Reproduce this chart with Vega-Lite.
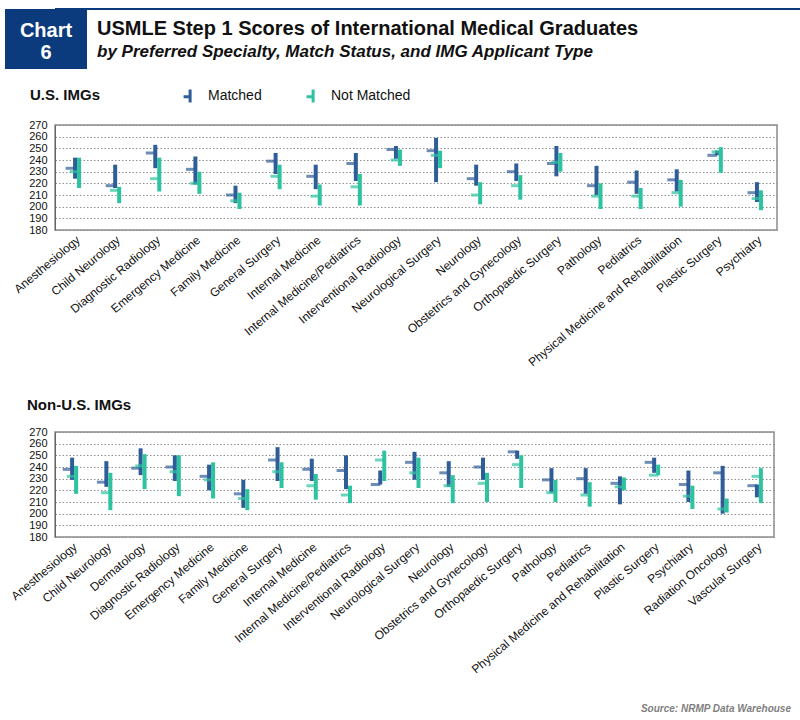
{
  "$schema": "https://vega.github.io/schema/vega-lite/v6.json",
  "padding": {"left": 5, "top": 8, "right": 0, "bottom": 0},
  "config": {
    "font": "Liberation Sans",
    "view": {"stroke": null},
    "axis": {"labelFont": "Liberation Sans"},
    "legend": {"labelFont": "Liberation Sans"}
  },
  "datasets": {
    "us": [
      {"specialty": "Anesthesiology", "status": "Matched", "low": 224, "high": 242, "mean": 233},
      {"specialty": "Anesthesiology", "status": "Not Matched", "low": 216, "high": 242, "mean": 230},
      {"specialty": "Child Neurology", "status": "Matched", "low": 216, "high": 236, "mean": 218},
      {"specialty": "Child Neurology", "status": "Not Matched", "low": 203, "high": 217, "mean": 214},
      {"specialty": "Diagnostic Radiology", "status": "Matched", "low": 233, "high": 253, "mean": 246},
      {"specialty": "Diagnostic Radiology", "status": "Not Matched", "low": 213, "high": 242, "mean": 224},
      {"specialty": "Emergency Medicine", "status": "Matched", "low": 219, "high": 243, "mean": 232},
      {"specialty": "Emergency Medicine", "status": "Not Matched", "low": 211, "high": 230, "mean": 220},
      {"specialty": "Family Medicine", "status": "Matched", "low": 203, "high": 218, "mean": 210},
      {"specialty": "Family Medicine", "status": "Not Matched", "low": 198, "high": 212, "mean": 205},
      {"specialty": "General Surgery", "status": "Matched", "low": 228, "high": 246, "mean": 239},
      {"specialty": "General Surgery", "status": "Not Matched", "low": 215, "high": 236, "mean": 226},
      {"specialty": "Internal Medicine", "status": "Matched", "low": 215, "high": 236, "mean": 226},
      {"specialty": "Internal Medicine", "status": "Not Matched", "low": 201, "high": 219, "mean": 209},
      {"specialty": "Internal Medicine/Pediatrics", "status": "Matched", "low": 222, "high": 246, "mean": 237},
      {"specialty": "Internal Medicine/Pediatrics", "status": "Not Matched", "low": 201, "high": 228, "mean": 217},
      {"specialty": "Interventional Radiology", "status": "Matched", "low": 241, "high": 252, "mean": 249},
      {"specialty": "Interventional Radiology", "status": "Not Matched", "low": 235, "high": 249, "mean": 240},
      {"specialty": "Neurological Surgery", "status": "Matched", "low": 221, "high": 259, "mean": 248},
      {"specialty": "Neurological Surgery", "status": "Not Matched", "low": 233, "high": 248, "mean": 244},
      {"specialty": "Neurology", "status": "Matched", "low": 218, "high": 236, "mean": 224},
      {"specialty": "Neurology", "status": "Not Matched", "low": 202, "high": 221, "mean": 210},
      {"specialty": "Obstetrics and Gynecology", "status": "Matched", "low": 222, "high": 237, "mean": 230},
      {"specialty": "Obstetrics and Gynecology", "status": "Not Matched", "low": 206, "high": 227, "mean": 218},
      {"specialty": "Orthopaedic Surgery", "status": "Matched", "low": 226, "high": 252, "mean": 237},
      {"specialty": "Orthopaedic Surgery", "status": "Not Matched", "low": 230, "high": 246, "mean": 238},
      {"specialty": "Pathology", "status": "Matched", "low": 210, "high": 235, "mean": 218},
      {"specialty": "Pathology", "status": "Not Matched", "low": 198, "high": 220, "mean": 209},
      {"specialty": "Pediatrics", "status": "Matched", "low": 211, "high": 231, "mean": 221},
      {"specialty": "Pediatrics", "status": "Not Matched", "low": 198, "high": 216, "mean": 209},
      {"specialty": "Physical Medicine and Rehabilitation", "status": "Matched", "low": 213, "high": 232, "mean": 223},
      {"specialty": "Physical Medicine and Rehabilitation", "status": "Not Matched", "low": 200, "high": 223, "mean": 212},
      {"specialty": "Plastic Surgery", "status": "Matched", "low": 244, "high": 248, "mean": 244},
      {"specialty": "Plastic Surgery", "status": "Not Matched", "low": 229, "high": 251, "mean": 247},
      {"specialty": "Psychiatry", "status": "Matched", "low": 204, "high": 221, "mean": 212},
      {"specialty": "Psychiatry", "status": "Not Matched", "low": 197, "high": 214, "mean": 207}
    ],
    "nonus": [
      {"specialty": "Anesthesiology", "status": "Matched", "low": 229, "high": 248, "mean": 238},
      {"specialty": "Anesthesiology", "status": "Not Matched", "low": 217, "high": 241, "mean": 232},
      {"specialty": "Child Neurology", "status": "Matched", "low": 223, "high": 245, "mean": 227},
      {"specialty": "Child Neurology", "status": "Not Matched", "low": 203, "high": 235, "mean": 218},
      {"specialty": "Dermatology", "status": "Matched", "low": 233, "high": 256, "mean": 239},
      {"specialty": "Dermatology", "status": "Not Matched", "low": 221, "high": 251, "mean": 241},
      {"specialty": "Diagnostic Radiology", "status": "Matched", "low": 228, "high": 250, "mean": 240},
      {"specialty": "Diagnostic Radiology", "status": "Not Matched", "low": 215, "high": 250, "mean": 236},
      {"specialty": "Emergency Medicine", "status": "Matched", "low": 220, "high": 242, "mean": 232},
      {"specialty": "Emergency Medicine", "status": "Not Matched", "low": 213, "high": 244, "mean": 229},
      {"specialty": "Family Medicine", "status": "Matched", "low": 205, "high": 229, "mean": 217},
      {"specialty": "Family Medicine", "status": "Not Matched", "low": 203, "high": 221, "mean": 213},
      {"specialty": "General Surgery", "status": "Matched", "low": 228, "high": 257, "mean": 246},
      {"specialty": "General Surgery", "status": "Not Matched", "low": 222, "high": 244, "mean": 236},
      {"specialty": "Internal Medicine", "status": "Matched", "low": 228, "high": 247, "mean": 238},
      {"specialty": "Internal Medicine", "status": "Not Matched", "low": 212, "high": 234, "mean": 224},
      {"specialty": "Internal Medicine/Pediatrics", "status": "Matched", "low": 221, "high": 250, "mean": 237},
      {"specialty": "Internal Medicine/Pediatrics", "status": "Not Matched", "low": 209, "high": 224, "mean": 216},
      {"specialty": "Interventional Radiology", "status": "Matched", "low": 225, "high": 237, "mean": 225},
      {"specialty": "Interventional Radiology", "status": "Not Matched", "low": 228, "high": 254, "mean": 246},
      {"specialty": "Neurological Surgery", "status": "Matched", "low": 229, "high": 253, "mean": 244},
      {"specialty": "Neurological Surgery", "status": "Not Matched", "low": 222, "high": 248, "mean": 235},
      {"specialty": "Neurology", "status": "Matched", "low": 223, "high": 245, "mean": 235},
      {"specialty": "Neurology", "status": "Not Matched", "low": 209, "high": 233, "mean": 224},
      {"specialty": "Obstetrics and Gynecology", "status": "Matched", "low": 229, "high": 248, "mean": 240},
      {"specialty": "Obstetrics and Gynecology", "status": "Not Matched", "low": 210, "high": 235, "mean": 226},
      {"specialty": "Orthopaedic Surgery", "status": "Matched", "low": 247, "high": 254, "mean": 253},
      {"specialty": "Orthopaedic Surgery", "status": "Not Matched", "low": 222, "high": 250, "mean": 242},
      {"specialty": "Pathology", "status": "Matched", "low": 218, "high": 239, "mean": 229},
      {"specialty": "Pathology", "status": "Not Matched", "low": 210, "high": 229, "mean": 218},
      {"specialty": "Pediatrics", "status": "Matched", "low": 217, "high": 239, "mean": 230},
      {"specialty": "Pediatrics", "status": "Not Matched", "low": 206, "high": 227, "mean": 216},
      {"specialty": "Physical Medicine and Rehabilitation", "status": "Matched", "low": 208, "high": 232, "mean": 226},
      {"specialty": "Physical Medicine and Rehabilitation", "status": "Not Matched", "low": 220, "high": 231, "mean": 223},
      {"specialty": "Plastic Surgery", "status": "Matched", "low": 235, "high": 248, "mean": 244},
      {"specialty": "Plastic Surgery", "status": "Not Matched", "low": 233, "high": 242, "mean": 233},
      {"specialty": "Psychiatry", "status": "Matched", "low": 210, "high": 237, "mean": 225},
      {"specialty": "Psychiatry", "status": "Not Matched", "low": 204, "high": 224, "mean": 215},
      {"specialty": "Radiation Oncology", "status": "Matched", "low": 200, "high": 241, "mean": 235},
      {"specialty": "Radiation Oncology", "status": "Not Matched", "low": 201, "high": 213, "mean": 204},
      {"specialty": "Vascular Surgery", "status": "Matched", "low": 214, "high": 225, "mean": 224},
      {"specialty": "Vascular Surgery", "status": "Not Matched", "low": 209, "high": 239, "mean": 232}
    ]
  },
  "title": {
    "text": "Source: NRMP Data Warehouse",
    "orient": "bottom",
    "anchor": "end",
    "font": "Liberation Sans",
    "fontSize": 10,
    "fontStyle": "italic",
    "fontWeight": "bold",
    "color": "#808080",
    "offset": 28,
    "dx": -10
  },
  "bounds": "flush",
  "spacing": 50,
  "hconcat": [
    {
      "vconcat": [
        {
          "width": 82,
          "height": 60,
          "view": {"fill": "#0b3b7c", "stroke": null},
          "data": {"values": [{}]},
          "mark": {"type": "text", "text": ["Chart", "6"], "color": "white", "font": "Liberation Sans", "fontSize": 20, "fontWeight": "bold", "lineHeight": 22, "baseline": "middle", "dy": -8},
          "encoding": {}
        }
      ]
    },
    {
      "spacing": 26,
      "vconcat": [
        {
          "width": 745,
          "height": 2,
          "data": {"values": [{}]},
          "mark": {"type": "rule", "color": "#0b3b7c", "strokeWidth": 2},
          "encoding": {"y": {"value": 0}},
          "title": {
            "text": "USMLE Step 1 Scores of International Medical Graduates",
            "subtitle": "by Preferred Specialty, Match Status, and IMG Applicant Type",
            "orient": "bottom",
            "anchor": "start",
            "frame": "group",
            "dx": 42,
            "offset": 8,
            "font": "Liberation Sans",
            "fontSize": 20,
            "fontWeight": "bold",
            "color": "#111111",
            "subtitleFont": "Liberation Sans",
            "subtitleFontSize": 17,
            "subtitleFontWeight": "bold",
            "subtitleFontStyle": "italic",
            "subtitleColor": "#111111",
            "subtitlePadding": 5
          }
        },
        {
          "spacing": 28,
          "resolve": {"scale": {"x": "independent", "y": "independent", "color": "shared"}, "legend": {"color": "independent"}},
          "vconcat": [
            {
              "width": 722,
              "height": 105,
              "data": {"name": "us"},
              "view": {"stroke": "#8c8c8c", "strokeWidth": 1.5},
              "title": {"text": "U.S. IMGs", "anchor": "start", "frame": "group", "dx": -25, "offset": -16, "fontSize": 15, "fontWeight": "bold", "color": "#111111", "font": "Liberation Sans"},
              "encoding": {
                "x": {"field": "specialty", "type": "nominal", "sort": null, "scale": {"paddingInner": 0, "paddingOuter": 0},
                  "axis": {"title": null, "labelAngle": -40, "ticks": false, "domain": false, "grid": false, "labelFontSize": 12, "labelPadding": 4, "labelColor": "#111111", "labelLimit": 400}},
                "color": {"field": "status", "type": "nominal", "scale": {"domain": ["Matched", "Not Matched"], "range": ["#2f5d98", "#2dc3a0"]},
                  "legend": {"title": null, "orient": "none", "legendX": 124, "legendY": -38, "direction": "horizontal", "padding": 0,
                    "symbolType": "M0.4,-1V1M-0.6,0.1H0.4", "symbolSize": 170, "symbolStrokeWidth": 3,
                    "labelFontSize": 14, "labelOffset": 12, "columnPadding": 38, "labelColor": "#111111",
                    "encode": {"symbols": {"update": {"stroke": {"scale": "color", "field": "value"}, "fillOpacity": {"value": 0}}}}}}
              },
              "layer": [
                {"transform": [{"filter": "datum.status === 'Matched'"}], "mark": {"type": "bar", "width": 4, "xOffset": 0},
                  "encoding": {"y": {"field": "low", "type": "quantitative", "scale": {"domain": [180, 270], "nice": false, "zero": false},
                    "axis": {"title": null, "values": [180, 190, 200, 210, 220, 230, 240, 250, 260, 270], "labelOverlap": false, "grid": true, "gridDash": [1.5, 2], "gridColor": "#8f8f8f", "ticks": false, "domainColor": "#666666", "labelFontSize": 11, "labelPadding": 8, "labelColor": "#111111"}},
                    "y2": {"field": "high"}}},
                {"transform": [{"filter": "datum.status === 'Matched'"}], "mark": {"type": "tick", "size": 9.5, "thickness": 3, "xOffset": -4.7},
                  "encoding": {"y": {"field": "mean", "type": "quantitative", "scale": {"domain": [180, 270], "nice": false, "zero": false},
                    "axis": {"title": null, "values": [180, 190, 200, 210, 220, 230, 240, 250, 260, 270], "labelOverlap": false, "grid": true, "gridDash": [1.5, 2], "gridColor": "#8f8f8f", "ticks": false, "domainColor": "#666666", "labelFontSize": 11, "labelPadding": 8, "labelColor": "#111111"}}}},
                {"transform": [{"filter": "datum.status === 'Not Matched'"}], "mark": {"type": "bar", "width": 4, "xOffset": 4},
                  "encoding": {"y": {"field": "low", "type": "quantitative", "scale": {"domain": [180, 270], "nice": false, "zero": false},
                    "axis": {"title": null, "values": [180, 190, 200, 210, 220, 230, 240, 250, 260, 270], "labelOverlap": false, "grid": true, "gridDash": [1.5, 2], "gridColor": "#8f8f8f", "ticks": false, "domainColor": "#666666", "labelFontSize": 11, "labelPadding": 8, "labelColor": "#111111"}},
                    "y2": {"field": "high"}}},
                {"transform": [{"filter": "datum.status === 'Not Matched'"}], "mark": {"type": "tick", "size": 9.5, "thickness": 3, "xOffset": -0.5},
                  "encoding": {"y": {"field": "mean", "type": "quantitative", "scale": {"domain": [180, 270], "nice": false, "zero": false},
                    "axis": {"title": null, "values": [180, 190, 200, 210, 220, 230, 240, 250, 260, 270], "labelOverlap": false, "grid": true, "gridDash": [1.5, 2], "gridColor": "#8f8f8f", "ticks": false, "domainColor": "#666666", "labelFontSize": 11, "labelPadding": 8, "labelColor": "#111111"}}}}
              ]
            },
            {
              "width": 719,
              "height": 105,
              "data": {"name": "nonus"},
              "view": {"stroke": "#8c8c8c", "strokeWidth": 1.5},
              "title": {"text": "Non-U.S. IMGs", "anchor": "start", "frame": "group", "dx": -28, "offset": 13, "fontSize": 15, "fontWeight": "bold", "color": "#111111", "font": "Liberation Sans"},
              "encoding": {
                "x": {"field": "specialty", "type": "nominal", "sort": null, "scale": {"paddingInner": 0, "paddingOuter": 0},
                  "axis": {"title": null, "labelAngle": -40, "ticks": false, "domain": false, "grid": false, "labelFontSize": 12, "labelPadding": 4, "labelColor": "#111111", "labelLimit": 400}},
                "color": {"field": "status", "type": "nominal", "scale": {"domain": ["Matched", "Not Matched"], "range": ["#2f5d98", "#2dc3a0"]}, "legend": null}
              },
              "layer": [
                {"transform": [{"filter": "datum.status === 'Matched'"}], "mark": {"type": "bar", "width": 4, "xOffset": 0},
                  "encoding": {"y": {"field": "low", "type": "quantitative", "scale": {"domain": [180, 270], "nice": false, "zero": false},
                    "axis": {"title": null, "values": [180, 190, 200, 210, 220, 230, 240, 250, 260, 270], "labelOverlap": false, "grid": true, "gridDash": [1.5, 2], "gridColor": "#8f8f8f", "ticks": false, "domainColor": "#666666", "labelFontSize": 11, "labelPadding": 8, "labelColor": "#111111"}},
                    "y2": {"field": "high"}}},
                {"transform": [{"filter": "datum.status === 'Matched'"}], "mark": {"type": "tick", "size": 9.5, "thickness": 3, "xOffset": -4.7},
                  "encoding": {"y": {"field": "mean", "type": "quantitative", "scale": {"domain": [180, 270], "nice": false, "zero": false},
                    "axis": {"title": null, "values": [180, 190, 200, 210, 220, 230, 240, 250, 260, 270], "labelOverlap": false, "grid": true, "gridDash": [1.5, 2], "gridColor": "#8f8f8f", "ticks": false, "domainColor": "#666666", "labelFontSize": 11, "labelPadding": 8, "labelColor": "#111111"}}}},
                {"transform": [{"filter": "datum.status === 'Not Matched'"}], "mark": {"type": "bar", "width": 4, "xOffset": 4},
                  "encoding": {"y": {"field": "low", "type": "quantitative", "scale": {"domain": [180, 270], "nice": false, "zero": false},
                    "axis": {"title": null, "values": [180, 190, 200, 210, 220, 230, 240, 250, 260, 270], "labelOverlap": false, "grid": true, "gridDash": [1.5, 2], "gridColor": "#8f8f8f", "ticks": false, "domainColor": "#666666", "labelFontSize": 11, "labelPadding": 8, "labelColor": "#111111"}},
                    "y2": {"field": "high"}}},
                {"transform": [{"filter": "datum.status === 'Not Matched'"}], "mark": {"type": "tick", "size": 9.5, "thickness": 3, "xOffset": -0.5},
                  "encoding": {"y": {"field": "mean", "type": "quantitative", "scale": {"domain": [180, 270], "nice": false, "zero": false},
                    "axis": {"title": null, "values": [180, 190, 200, 210, 220, 230, 240, 250, 260, 270], "labelOverlap": false, "grid": true, "gridDash": [1.5, 2], "gridColor": "#8f8f8f", "ticks": false, "domainColor": "#666666", "labelFontSize": 11, "labelPadding": 8, "labelColor": "#111111"}}}}
              ]
            }
          ]
        }
      ]
    }
  ]
}
